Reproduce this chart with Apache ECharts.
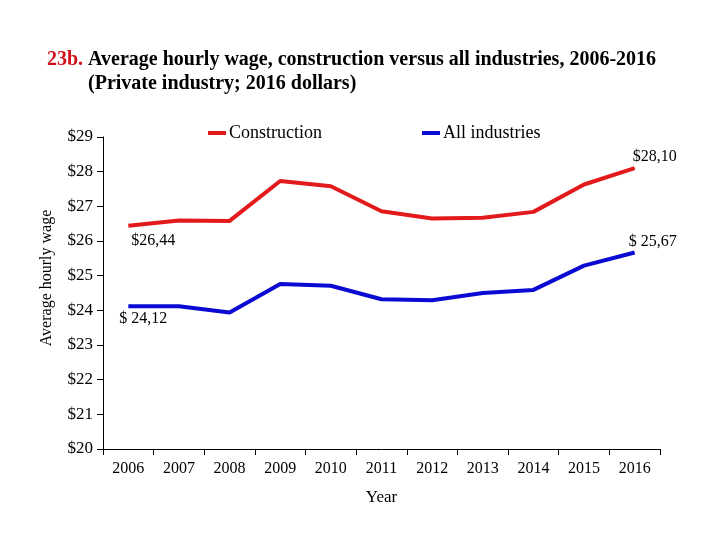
<!DOCTYPE html>
<html>
<head>
<meta charset="utf-8">
<script src="https://cdn.jsdelivr.net/npm/echarts@6/dist/echarts.min.js"></script>
<style>
  html, body { margin: 0; padding: 0; background: #fff; }
  #chart { width: 720px; height: 540px; }
</style>
</head>
<body>
<div id="chart"></div>
<script>
const years = ['2006', '2007', '2008', '2009', '2010', '2011', '2012', '2013', '2014', '2015', '2016'];
const construction = [26.44, 26.59, 26.58, 27.73, 27.58, 26.86, 26.65, 26.67, 26.84, 27.63, 28.10];
const allIndustries = [24.12, 24.12, 23.94, 24.76, 24.71, 24.32, 24.29, 24.50, 24.59, 25.29, 25.67];
// text of the labels at the two ends, as printed
const constructionEnds = ['$26,44', '$28,10'];
const allEnds = ['$ 24,12', '$ 25,67'];

const serif = 'Liberation Serif';
const red = '#e31a1c';
const blue = '#0a0ad2';

function withEnds(values, ends, firstOffset, lastOffset) {
  return values.map((v, i) => {
    if (i === 0) {
      return { value: v, label: { show: true, position: 'bottom', offset: firstOffset, formatter: ends[0] } };
    }
    if (i === values.length - 1) {
      return { value: v, label: { show: true, position: 'top', offset: lastOffset, formatter: ends[1] } };
    }
    return v;
  });
}

const chart = echarts.init(document.getElementById('chart'));
chart.setOption({
  animation: false,
  title: [
    {
      text: '{a|23b.} {b|Average hourly wage, construction versus all industries, 2006-2016}',
      left: 42,
      top: 45,
      textStyle: {
        rich: {
          a: { color: '#d0101a', fontFamily: serif, fontWeight: 'bold', fontSize: 20 },
          b: { color: '#000', fontFamily: serif, fontWeight: 'bold', fontSize: 20 },
        },
      },
    },
    {
      text: '(Private industry; 2016 dollars)',
      left: 83,
      top: 69,
      textStyle: { color: '#000', fontFamily: serif, fontWeight: 'bold', fontSize: 20 },
    },
  ],
  legend: [
    {
      data: ['Construction'],
      left: 203,
      top: 119,
      icon: 'rect',
      itemWidth: 18,
      itemHeight: 4,
      textStyle: { fontFamily: serif, fontSize: 18, color: '#000', padding: [0, 0, 0, -2] },
    },
    {
      data: ['All industries'],
      left: 417,
      top: 119,
      icon: 'rect',
      itemWidth: 18,
      itemHeight: 4,
      textStyle: { fontFamily: serif, fontSize: 18, color: '#000', padding: [0, 0, 0, -2] },
    },
  ],
  grid: { left: 103, right: 60, top: 137, bottom: 91 },
  xAxis: {
    type: 'category',
    data: years,
    boundaryGap: true,
    name: 'Year',
    nameLocation: 'middle',
    nameGap: 40,
    nameTextStyle: { fontFamily: serif, fontSize: 17, color: '#000' },
    axisLine: { lineStyle: { color: '#000', width: 1 } },
    axisTick: { show: true, length: 6, lineStyle: { color: '#000' } },
    axisLabel: { fontFamily: serif, fontSize: 16, color: '#000', margin: 12 },
    splitLine: { show: false },
  },
  yAxis: {
    type: 'value',
    min: 20,
    max: 29,
    interval: 1,
    name: 'Average hourly wage',
    nameLocation: 'middle',
    nameGap: 48,
    nameTextStyle: { fontFamily: serif, fontSize: 16, color: '#000', padding: [0, 0, 0, 30] },
    axisLine: { show: true, lineStyle: { color: '#000', width: 1 } },
    axisTick: { show: true, length: 6, lineStyle: { color: '#000' } },
    axisLabel: { fontFamily: serif, fontSize: 17, color: '#000', margin: 10, formatter: '${value}' },
    splitLine: { show: false },
  },
  series: [
    {
      name: 'Construction',
      type: 'line',
      data: withEnds(construction, constructionEnds, [25, 2], [20, 2]),
      symbol: 'circle',
      symbolSize: 0,
      color: red,
      lineStyle: { color: red, width: 4 },
      label: { fontFamily: serif, fontSize: 16, color: '#000' },
    },
    {
      name: 'All industries',
      type: 'line',
      data: withEnds(allIndustries, allEnds, [15, 0], [18, 2]),
      symbol: 'circle',
      symbolSize: 0,
      color: blue,
      lineStyle: { color: blue, width: 4 },
      label: { fontFamily: serif, fontSize: 16, color: '#000' },
    },
  ],
});
</script>
</body>
</html>
